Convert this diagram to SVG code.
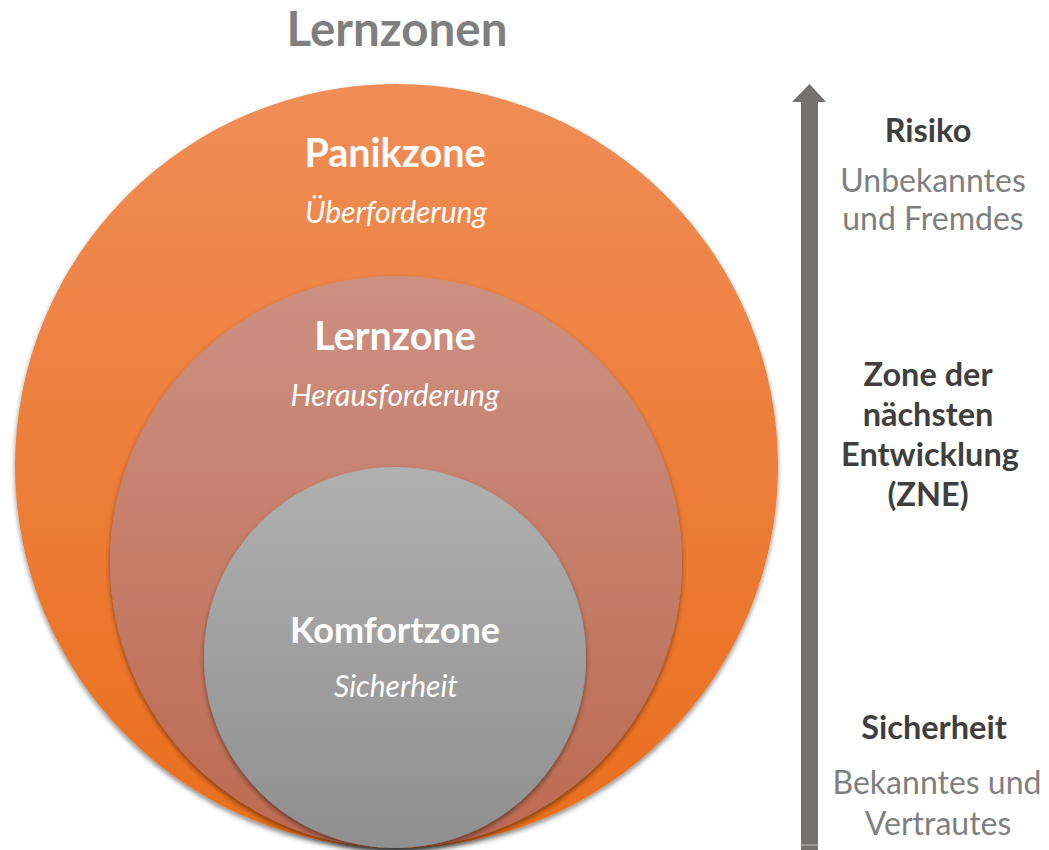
<svg xmlns="http://www.w3.org/2000/svg" width="1049" height="850" viewBox="0 0 1049 850">
<style>
  text { font-family: Lato, "Liberation Sans", sans-serif; text-anchor: middle; }
  .title { font-size: 47.5px; font-weight: bold; fill: #7f7f7f; }
  .zone { font-size: 39.5px; font-weight: bold; fill: #ffffff; }
  .sub { font-size: 30px; font-style: italic; fill: #ffffff; }
  .head { font-size: 32.5px; font-weight: bold; fill: #3f3f3f; }
  .desc { font-size: 32px; fill: #7f7f7f; }
</style>
<defs>
  <linearGradient id="gOuter" x1="0" y1="0" x2="0" y2="1">
    <stop offset="0" stop-color="#f08d57"/>
    <stop offset="1" stop-color="#ea6e1c"/>
  </linearGradient>
  <linearGradient id="gMid" x1="0" y1="0" x2="0" y2="1">
    <stop offset="0" stop-color="#cd9082"/>
    <stop offset="1" stop-color="#bd6a52"/>
  </linearGradient>
  <linearGradient id="gInner" x1="0" y1="0" x2="0" y2="1">
    <stop offset="0" stop-color="#b0b0b0"/>
    <stop offset="1" stop-color="#8f8f8f"/>
  </linearGradient>
  <filter id="shadow" x="-10%" y="-10%" width="120%" height="125%">
    <feDropShadow dx="0" dy="3" stdDeviation="2.5" flood-color="#000" flood-opacity="0.45"/>
  </filter>
</defs>
<rect width="1049" height="850" fill="#ffffff"/>
<text class="title" x="397" y="46">Lernzonen</text>

<g id="panikzone">
  <ellipse cx="396.5" cy="466" rx="381.5" ry="382" fill="url(#gOuter)" filter="url(#shadow)"/>
  <text class="zone" x="395" y="167">Panikzone</text>
  <text class="sub" x="396" y="223">Überforderung</text>
</g>
<g id="lernzone">
  <ellipse cx="396" cy="562" rx="286" ry="286" fill="url(#gMid)" filter="url(#shadow)"/>
  <text class="zone" x="395" y="350">Lernzone</text>
  <text class="sub" x="395" y="406">Herausforderung</text>
</g>
<g id="komfortzone">
  <ellipse cx="395" cy="657.5" rx="191" ry="190.5" fill="url(#gInner)" filter="url(#shadow)"/>
  <text class="zone" x="395" y="643" style="font-size:36px">Komfortzone</text>
  <text class="sub" x="396" y="697">Sicherheit</text>
</g>

<g id="connectors">
  <path d="M801 850 L801 102 L792 102 L809.5 84 L826 102 L818 102 L818 850 Z" fill="#767171"/>
  <line x1="801" y1="845" x2="818" y2="845" stroke="#bdbaba" stroke-width="1"/>
</g>

<g id="risiko">
  <text class="head" x="928" y="142">Risiko</text>
  <text class="desc" x="933" y="192">Unbekanntes</text>
  <text class="desc" x="933" y="230">und Fremdes</text>
</g>
<g id="zne">
  <text class="head" x="928" y="386">Zone der</text>
  <text class="head" x="928" y="426">nächsten</text>
  <text class="head" x="930" y="466">Entwicklung</text>
  <text class="head" x="928" y="506">(ZNE)</text>
</g>
<g id="sicherheit">
  <text class="head" x="934" y="739">Sicherheit</text>
  <text class="desc" x="937" y="794">Bekanntes und</text>
  <text class="desc" x="938" y="835">Vertrautes</text>
</g>
</svg>
